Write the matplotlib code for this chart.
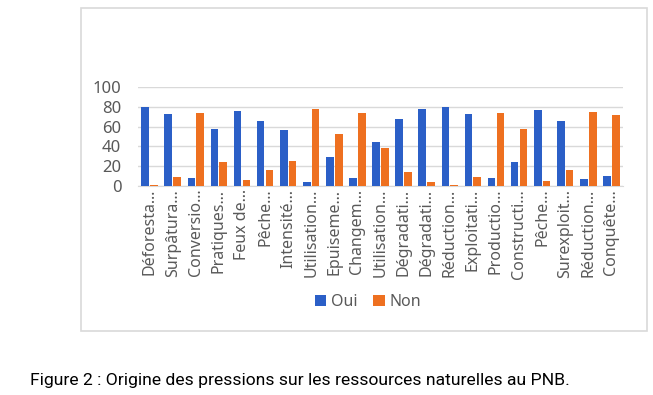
"""Origine des pressions sur les ressources naturelles au PNB."""

import matplotlib.pyplot as plt
from matplotlib.patches import Rectangle
import numpy as np

categories = [
    "Déforesta…", "Surpâtura…", "Conversio…", "Pratiques…", "Feux de…",
    "Pêche…", "Intensité…", "Utilisation…", "Epuiseme…", "Changem…",
    "Utilisation…", "Dégradati…", "Dégradati…", "Réduction…", "Exploitati…",
    "Productio…", "Constructi…", "Pêche…", "Surexploit…", "Réduction…",
    "Conquête…",
]
oui = [80, 73, 8, 58, 76, 66, 57, 4, 29, 8, 44, 68, 78, 80, 73, 8, 24, 77, 66, 7, 10]
non = [1, 9, 74, 24, 6, 16, 25, 78, 53, 74, 38, 14, 4, 1, 9, 74, 58, 5, 16, 75, 72]
y_ticks = [0, 20, 40, 60, 80, 100]

BLUE = "#2B5FC7"
ORANGE = "#EE7020"
TEXT = "#595959"

plt.rcParams["font.family"] = ["Noto Sans", "DejaVu Sans"]

fig = plt.figure(figsize=(6.53, 3.95), dpi=100)
fig.patches.append(Rectangle((81 / 653, 1 - 331 / 395), 566 / 653, 323 / 395,
                             transform=fig.transFigure, fill=False,
                             edgecolor="#D9D9D9", linewidth=1.2))

ax = fig.add_axes([138 / 653, 1 - 186 / 395, 485 / 653, 99 / 395])
x = np.arange(len(categories))
w = 0.33
ax.bar(x - 0.19, oui, w, color=BLUE, label="Oui", zorder=3)
ax.bar(x + 0.19, non, w, color=ORANGE, label="Non", zorder=3)

ax.set_xlim(-0.5, len(categories) - 0.5)
ax.set_ylim(0, 100)
ax.set_yticks(y_ticks)
ax.set_yticklabels([str(v) for v in y_ticks], fontsize=12, color=TEXT)
ax.set_xticks(x)
ax.set_xticklabels(categories, rotation=90, fontsize=11.5, color=TEXT)
ax.tick_params(axis="y", length=0, pad=12)
ax.tick_params(axis="x", length=0, pad=2)
ax.grid(axis="y", color="#D9D9D9", linewidth=1, zorder=0)
for s in ["top", "right", "left"]:
    ax.spines[s].set_visible(False)
ax.spines["bottom"].set_color("#D9D9D9")

fig.legend(loc="center", bbox_to_anchor=(368 / 653, 1 - 302 / 395), ncol=2,
           frameon=False, fontsize=11.5, labelcolor=TEXT, handlelength=0.7,
           handleheight=0.7, handletextpad=0.3, columnspacing=1.0)

fig.text(30 / 653, 1 - 380 / 395, "Figure 2 : Origine des pressions sur les ressources naturelles au PNB.",
         fontsize=12.6, family=["Roboto", "DejaVu Sans"], color="#000000", va="center")

fig.savefig("out.png", dpi=100, facecolor="white")
